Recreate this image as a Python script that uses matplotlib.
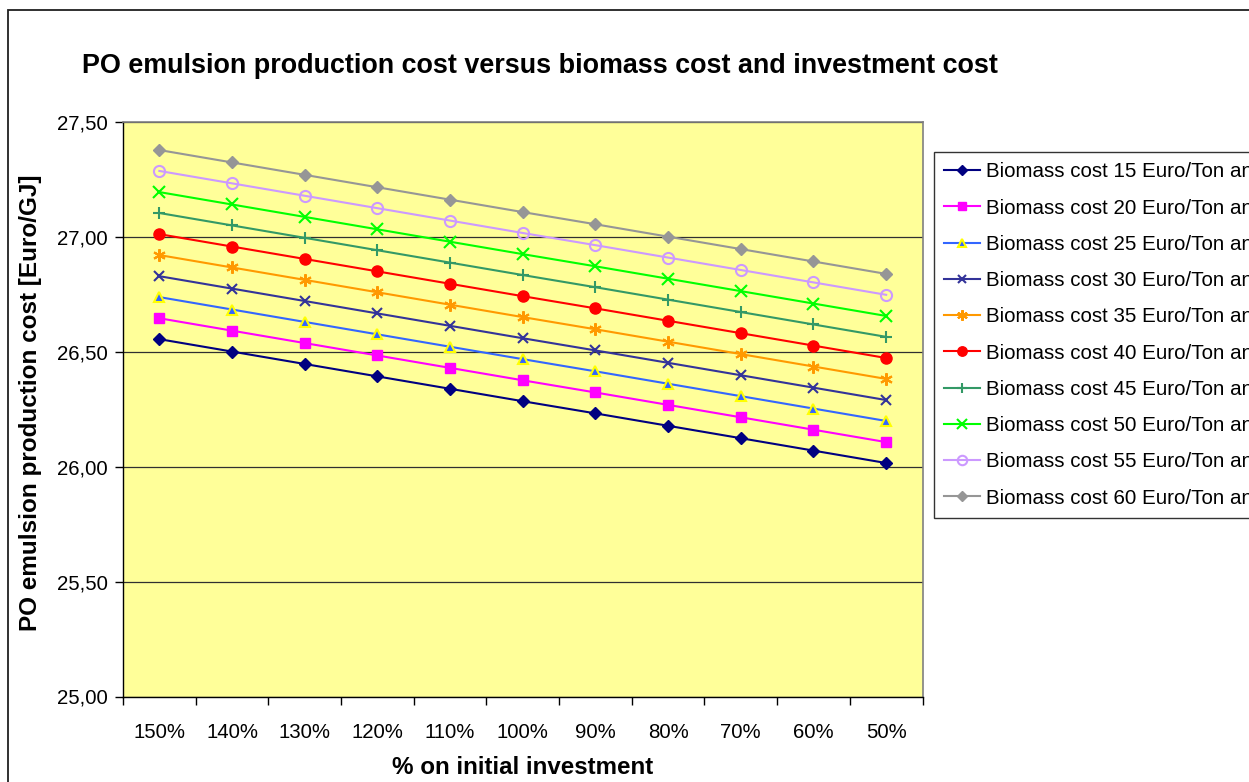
import matplotlib.pyplot as plt
import matplotlib.patches as mpatches
import numpy as np

plt.rcParams['font.family'] = ['Liberation Sans', 'DejaVu Sans']

# Investment levels (categories on the x axis)
investment = ['150%', '140%', '130%', '120%', '110%', '100%', '90%', '80%', '70%', '60%', '50%']

# PO emulsion production cost [Euro/GJ] for each biomass cost
cost_15 = [26.555, 26.501, 26.447, 26.393, 26.339, 26.285, 26.232, 26.178, 26.124, 26.070, 26.016]
cost_20 = [26.646, 26.592, 26.538, 26.484, 26.430, 26.376, 26.323, 26.269, 26.215, 26.161, 26.107]
cost_25 = [26.738, 26.684, 26.630, 26.576, 26.522, 26.468, 26.415, 26.361, 26.307, 26.253, 26.199]
cost_30 = [26.829, 26.775, 26.721, 26.667, 26.613, 26.559, 26.506, 26.452, 26.398, 26.344, 26.290]
cost_35 = [26.921, 26.867, 26.813, 26.759, 26.705, 26.651, 26.598, 26.544, 26.490, 26.436, 26.382]
cost_40 = [27.012, 26.958, 26.904, 26.850, 26.796, 26.742, 26.689, 26.635, 26.581, 26.527, 26.473]
cost_45 = [27.104, 27.050, 26.996, 26.942, 26.888, 26.834, 26.781, 26.727, 26.673, 26.619, 26.565]
cost_50 = [27.195, 27.141, 27.087, 27.033, 26.979, 26.925, 26.872, 26.818, 26.764, 26.710, 26.656]
cost_55 = [27.287, 27.233, 27.179, 27.125, 27.071, 27.017, 26.964, 26.910, 26.856, 26.802, 26.748]
cost_60 = [27.378, 27.324, 27.270, 27.216, 27.162, 27.108, 27.055, 27.001, 26.947, 26.893, 26.839]

biomass = [15, 20, 25, 30, 35, 40, 45, 50, 55, 60]
series = [cost_15, cost_20, cost_25, cost_30, cost_35, cost_40, cost_45, cost_50, cost_55, cost_60]

# line colour, marker, face colour, edge colour, marker size
styles = [
    ('#000080', 'D', '#000080', '#000080', 6.5),
    ('#FF00FF', 's', '#FF00FF', '#FF00FF', 7.5),
    ('#3366FF', '^', '#3366FF', '#FFFF00', 7.5),
    ('#333399', 'x', '#333399', '#333399', 7.5),
    ('#FF9900', (6, 2, 0), '#FF9900', '#FF9900', 9),
    ('#FF0000', 'o', '#FF0000', '#FF0000', 8),
    ('#339966', '+', '#339966', '#339966', 8.5),
    ('#00FF00', 'x', '#00FF00', '#00FF00', 8),
    ('#CC99FF', 'o', 'none', '#CC99FF', 8),
    ('#969696', 'D', '#969696', '#969696', 6.5),
]

W, H = 1249, 782
fig = plt.figure(figsize=(W / 100, H / 100), dpi=100)

# outer chart frame (runs off the right and bottom edges)
fig.patches.append(mpatches.Rectangle((7.5 / W, -0.1), 1.2, 1 - 10 / H + 0.1,
                                      transform=fig.transFigure, fill=False,
                                      edgecolor='#202020', linewidth=1.3))

ax = fig.add_axes([123 / W, 1 - 696.5 / H, (922.5 - 123) / W, (696.5 - 122) / H])
ax.set_facecolor('#FFFF99')

x = np.arange(len(investment))
for b, vals, (lc, mk, fc, ec, ms) in zip(biomass, series, styles):
    ax.plot(x, vals, color=lc, linewidth=1.5, marker=mk, markersize=ms,
            markerfacecolor=fc, markeredgecolor=ec,
            markeredgewidth=1.5 if mk not in ('D', 's', 'o') or fc == 'none' else 1.0,
            label='Biomass cost %d Euro/Ton and' % b, clip_on=False, zorder=3)

ax.set_xlim(-0.5, len(investment) - 0.5)
ax.set_ylim(25.0, 27.5)

yticks = [25.0, 25.5, 26.0, 26.5, 27.0, 27.5]
ax.set_yticks(yticks)
ax.set_yticklabels([('%.2f' % v).replace('.', ',') for v in yticks])
ax.grid(axis='y', color='#303030', linewidth=0.9)
ax.set_axisbelow(True)

# tick marks between categories, labels centred on them
ax.set_xticks(np.arange(-0.5, len(investment), 1.0))
ax.set_xticklabels([])
ax.set_xticks(x, minor=True)
ax.set_xticklabels(investment, minor=True)
ax.tick_params(axis='x', which='major', direction='out', length=6, width=1, color='black')
ax.tick_params(axis='x', which='minor', length=0, pad=19, labelsize=14.7)
ax.tick_params(axis='y', direction='out', length=6, width=1, pad=5, labelsize=14.7)

for side in ['top', 'right']:
    ax.spines[side].set_color('#808080')
    ax.spines[side].set_linewidth(1.2)
ax.spines['left'].set_color('black')
ax.spines['bottom'].set_color('black')
ax.spines['left'].set_linewidth(1.0)
ax.spines['bottom'].set_linewidth(1.0)

fig.text(82 / W, 1 - 66 / H, 'PO emulsion production cost versus biomass cost and investment cost',
         fontsize=19.4, fontweight='bold', va='center', ha='left')
fig.text(31 / W, 1 - 403 / H, 'PO emulsion production cost [Euro/GJ]',
         fontsize=17.5, fontweight='bold', rotation=90, va='center', ha='center')
fig.text(523 / W, 1 - 767 / H, '% on initial investment',
         fontsize=17.4, fontweight='bold', va='center', ha='center')

leg = ax.legend(loc='upper left', bbox_to_anchor=(934 / W, 1 - 152 / H),
                bbox_transform=fig.transFigure, fontsize=14.8, frameon=True,
                fancybox=False, borderaxespad=0, borderpad=0.5, labelspacing=0.84,
                handlelength=1.75, handletextpad=0.3, markerscale=0.85)
leg.get_frame().set_edgecolor('black')
leg.get_frame().set_linewidth(1.0)

fig.savefig('out.png', dpi=100, facecolor='white')
